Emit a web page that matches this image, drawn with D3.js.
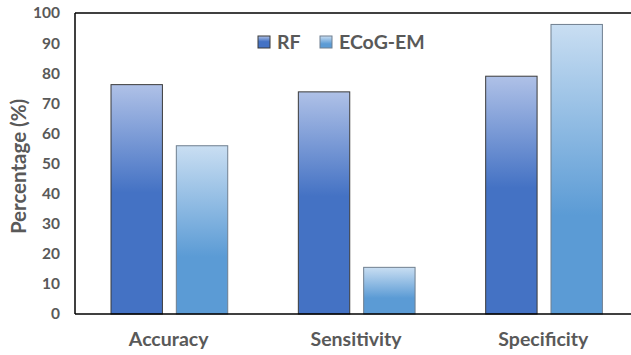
<!DOCTYPE html>
<html><head><meta charset="utf-8">
<script src="https://cdn.jsdelivr.net/npm/d3@7"></script>
<style>body{margin:0;background:#fff}svg{display:block}</style>
</head><body>
<script>
const categories = ["Accuracy", "Sensitivity", "Specificity"];
const seriesNames = ["RF", "ECoG-EM"];
const rfValues = [76.2, 73.8, 79.0];
const ecogValues = [55.9, 15.5, 96.2];
const yTicks = [0,10,20,30,40,50,60,70,80,90,100];

const W = 631, H = 355;
const m = {left: 75, top: 13, right: 637, bottom: 314};
const font = "Lato, 'Open Sans', sans-serif";
const textColor = "#595959";

const svg = d3.select("body").append("svg").attr("width", W).attr("height", H);
const defs = svg.append("defs");
function grad(id, top, bottom, stop) {
  const g = defs.append("linearGradient").attr("id", id)
    .attr("x1", 0).attr("y1", 0).attr("x2", 0).attr("y2", 1);
  g.append("stop").attr("offset", 0).attr("stop-color", top);
  g.append("stop").attr("offset", stop).attr("stop-color", bottom);
  g.append("stop").attr("offset", 1).attr("stop-color", bottom);
}
grad("gRF", "#afc1e7", "#4472c4", 0.47);
grad("gEC", "#c9def2", "#5b9bd5", 0.66);
const fills = ["url(#gRF)", "url(#gEC)"];
const strokes = ["#3a3a3a", "#6f7f8f"];

const y = d3.scaleLinear().domain([0, 100]).range([m.bottom, m.top]);
const x0 = d3.scaleBand().domain(categories).range([m.left, m.right]).padding(0);
const bw = x0.bandwidth();
const x1 = d3.scaleBand().domain(seriesNames)
  .range([bw * 0.1922, bw * 0.8153]).paddingInner(0.213).paddingOuter(0);

const data = categories.map((c, i) => ({c, vals: [rfValues[i], ecogValues[i]]}));

const g = svg.append("g");
data.forEach(d => {
  d.vals.forEach((v, j) => {
    g.append("rect")
      .attr("x", x0(d.c) + x1(seriesNames[j]))
      .attr("y", y(v))
      .attr("width", x1.bandwidth())
      .attr("height", y(0) - y(v))
      .attr("fill", fills[j])
      .attr("stroke", strokes[j])
      .attr("stroke-width", 1);
  });
});

// frame
svg.append("line").attr("x1", m.left).attr("x2", W).attr("y1", m.top).attr("y2", m.top)
  .attr("stroke", "#000").attr("stroke-width", 1.5);
svg.append("line").attr("x1", m.left).attr("x2", m.left).attr("y1", m.top).attr("y2", m.bottom)
  .attr("stroke", "#000").attr("stroke-width", 1.5);
svg.append("line").attr("x1", m.left).attr("x2", W).attr("y1", m.bottom).attr("y2", m.bottom)
  .attr("stroke", "#000").attr("stroke-width", 1.5);

// y axis labels
const yAxis = d3.axisLeft(y).tickValues(yTicks).tickSize(0).tickPadding(15);
const ya = svg.append("g").attr("transform", `translate(${m.left},0)`).call(yAxis);
ya.select(".domain").remove();
ya.selectAll("text").attr("font-family", font).attr("font-weight", "bold")
  .attr("font-size", 15.5).attr("fill", textColor);

// x axis labels
const xAxis = d3.axisBottom(x0).tickSize(0).tickPadding(18);
const xa = svg.append("g").attr("transform", `translate(0,${m.bottom})`).call(xAxis);
xa.select(".domain").remove();
xa.selectAll("text").attr("font-family", font).attr("font-weight", "bold")
  .attr("font-size", 19.5).attr("fill", textColor);

// y title
svg.append("text").attr("transform", `translate(26,${(m.top + m.bottom) / 2 + 3}) rotate(-90)`)
  .attr("text-anchor", "middle").attr("font-family", font).attr("font-weight", "bold")
  .attr("font-size", 20.5).attr("fill", textColor).text("Percentage (%)");

// legend
const legX = [258, 320];
seriesNames.forEach((s, j) => {
  svg.append("rect").attr("x", legX[j]).attr("y", 36).attr("width", 12).attr("height", 12)
    .attr("fill", fills[j]).attr("stroke", strokes[j]).attr("stroke-width", 1);
  svg.append("text").attr("x", legX[j] + 19).attr("y", 49).attr("font-family", font)
    .attr("font-weight", "bold").attr("font-size", 19.5).attr("fill", textColor).text(s);
});
</script>
</body></html>
